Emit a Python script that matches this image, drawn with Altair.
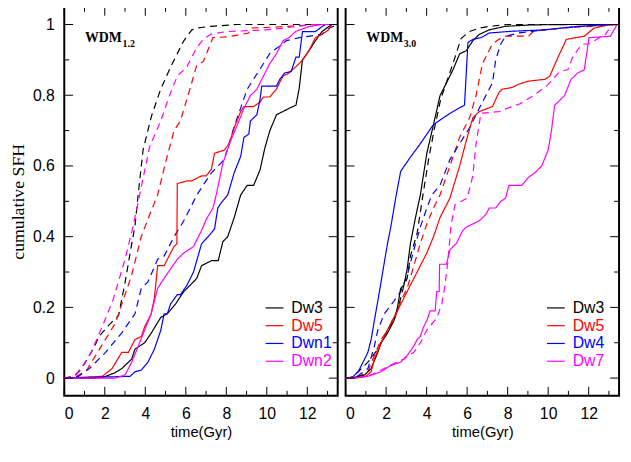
import altair as alt
import pandas as pd

# ---------------- data ----------------
# Left panel (WDM 1.2)
L_DW3_S_T = [0, 1.5, 2.04, 2.5, 2.84, 3.33, 3.49, 3.97, 4.29, 4.77, 5.09, 5.5, 5.9, 6.22, 6.54, 6.78, 7.26, 7.6, 7.83, 8.07, 8.39, 8.71, 9.03, 9.35, 9.67, 9.9, 10.15, 10.48, 10.8, 11.1, 11.44, 11.6, 11.76, 12.08, 12.4, 12.72, 13.2, 13.5]
L_DW3_S_V = [0, 0, 0.005, 0.015, 0.027, 0.054, 0.082, 0.1, 0.127, 0.172, 0.182, 0.21, 0.245, 0.263, 0.282, 0.318, 0.332, 0.332, 0.386, 0.4, 0.454, 0.518, 0.545, 0.545, 0.59, 0.65, 0.7, 0.745, 0.754, 0.763, 0.772, 0.82, 0.9, 0.926, 0.954, 0.98, 1.0, 1.0]
L_DW5_S_T = [0, 1.88, 2.36, 2.84, 3.17, 3.49, 3.81, 3.97, 4.29, 4.45, 4.61, 4.93, 5.25, 5.42, 5.56, 5.58, 6.06, 6.3, 6.78, 7.0, 7.26, 7.42, 7.9, 8.14, 8.39, 8.71, 8.87, 9.35, 9.67, 9.83, 10.15, 10.47, 10.8, 11.1, 11.44, 11.76, 12.08, 12.4, 12.72, 13.05, 13.2, 13.5]
L_DW5_S_V = [0, 0.005, 0.027, 0.073, 0.073, 0.109, 0.118, 0.145, 0.182, 0.227, 0.318, 0.318, 0.354, 0.372, 0.38, 0.55, 0.558, 0.558, 0.572, 0.572, 0.59, 0.636, 0.645, 0.663, 0.708, 0.754, 0.768, 0.768, 0.781, 0.795, 0.795, 0.817, 0.854, 0.863, 0.881, 0.899, 0.926, 0.963, 0.972, 0.985, 1.0, 1.0]
L_DWN1_S_T = [0, 3.25, 3.49, 3.81, 4.13, 4.45, 4.77, 4.93, 5.09, 5.25, 5.58, 5.74, 6.06, 6.38, 6.54, 6.78, 7.1, 7.42, 7.58, 7.74, 8.07, 8.39, 8.71, 8.87, 9.11, 9.19, 9.51, 9.67, 9.75, 10.48, 10.64, 10.88, 11.2, 11.44, 11.6, 11.76, 12.4, 12.72, 12.9, 13.5]
L_DWN1_S_V = [0, 0.005, 0.018, 0.023, 0.045, 0.082, 0.136, 0.182, 0.182, 0.21, 0.236, 0.236, 0.263, 0.3, 0.332, 0.38, 0.4, 0.422, 0.481, 0.495, 0.518, 0.581, 0.627, 0.681, 0.69, 0.727, 0.745, 0.79, 0.826, 0.826, 0.845, 0.863, 0.867, 0.908, 0.908, 0.98, 0.98, 0.994, 1.0, 1.0]
L_DWN2_S_T = [0, 2.5, 3.0, 3.33, 3.65, 3.97, 4.29, 4.61, 4.93, 5.25, 5.58, 5.9, 6.38, 6.78, 7.02, 7.34, 7.5, 7.83, 8.22, 8.55, 8.87, 9.19, 9.51, 9.83, 10.15, 10.47, 10.8, 11.1, 11.44, 12.08, 12.72, 13.5]
L_DWN2_S_V = [0, 0, 0.009, 0.045, 0.09, 0.136, 0.182, 0.254, 0.282, 0.309, 0.336, 0.354, 0.372, 0.418, 0.45, 0.481, 0.518, 0.608, 0.672, 0.717, 0.763, 0.799, 0.817, 0.854, 0.89, 0.917, 0.954, 0.963, 0.981, 0.994, 1.0, 1.0]
L_DW3_D_T = [0, 0.5, 1.0, 1.5, 1.72, 2.2, 2.68, 3.0, 3.3, 3.49, 3.65, 3.89, 4.3, 4.76, 5.26, 5.9, 6.3, 6.54, 7.26, 8.5, 13.5]
L_DW3_D_V = [0, 0.005, 0.04, 0.09, 0.118, 0.15, 0.177, 0.27, 0.37, 0.43, 0.52, 0.645, 0.74, 0.817, 0.881, 0.954, 0.985, 0.99, 0.995, 1.0, 1.0]
L_DW5_D_T = [0, 0.6, 1.08, 1.72, 2.52, 3.32, 3.8, 4.2, 4.61, 5.0, 5.42, 5.73, 6.2, 6.54, 6.86, 7.34, 8.07, 9.1, 9.2, 10.5, 12.5, 13.5]
L_DW5_D_V = [0, 0.005, 0.02, 0.08, 0.155, 0.29, 0.4, 0.46, 0.518, 0.61, 0.70, 0.727, 0.817, 0.885, 0.895, 0.963, 0.965, 0.976, 0.99, 0.993, 1.0, 1.0]
L_DWN1_D_T = [0, 0.7, 1.24, 2.04, 2.84, 3.49, 3.8, 4.13, 4.61, 4.93, 5.42, 5.9, 6.3, 6.54, 7.26, 7.9, 8.37, 9.03, 10.15, 10.96, 11.6, 12.7, 13.1, 13.5]
L_DWN1_D_V = [0, 0.005, 0.027, 0.073, 0.128, 0.182, 0.254, 0.272, 0.336, 0.345, 0.4, 0.445, 0.49, 0.518, 0.58, 0.618, 0.708, 0.817, 0.918, 0.954, 0.963, 0.972, 0.99, 1.0]
L_DWN2_D_T = [0, 0.5, 0.76, 1.3, 1.87, 2.4, 3.0, 3.4, 3.73, 4.21, 4.76, 5.2, 5.58, 6.06, 6.54, 6.9, 7.26, 8.0, 10.0, 11.6, 12.2, 13.5]
L_DWN2_D_V = [0, 0.005, 0.02, 0.07, 0.145, 0.22, 0.336, 0.43, 0.52, 0.654, 0.727, 0.8, 0.854, 0.881, 0.935, 0.96, 0.973, 0.98, 0.985, 0.995, 1.0, 1.0]

# Right panel (WDM 3.0)
R_DW3_S_T = [0, 0.29, 0.94, 1.26, 1.59, 1.75, 2.07, 2.39, 2.56, 2.72, 2.88, 3.04, 3.2, 3.45, 3.69, 4.01, 4.34, 4.66, 4.98, 5.3, 5.63, 5.96, 6.28, 6.6, 7.09, 7.9, 9.2, 11.0, 13.5]
R_DW3_S_V = [0, 0, 0.009, 0.027, 0.073, 0.1, 0.127, 0.163, 0.2, 0.254, 0.263, 0.309, 0.381, 0.454, 0.518, 0.636, 0.717, 0.799, 0.835, 0.872, 0.917, 0.926, 0.954, 0.972, 0.985, 0.995, 0.999, 1.0, 1.0]
R_DW5_S_T = [0, 0.45, 1.0, 1.26, 1.42, 1.75, 2.07, 2.39, 2.72, 3.04, 3.37, 3.69, 4.01, 4.34, 4.66, 5.15, 5.63, 5.96, 6.28, 6.6, 7.25, 7.57, 7.73, 8.22, 8.54, 9.03, 9.84, 10.08, 10.49, 10.9, 11.78, 12.27, 13.07, 13.5]
R_DW5_S_V = [0, 0, 0.005, 0.018, 0.054, 0.1, 0.136, 0.172, 0.209, 0.245, 0.282, 0.318, 0.354, 0.4, 0.454, 0.509, 0.6, 0.672, 0.736, 0.754, 0.768, 0.808, 0.817, 0.822, 0.831, 0.84, 0.845, 0.854, 0.908, 0.958, 0.967, 0.99, 1.0, 1.0]
R_DW4_S_T = [0, 0.29, 0.62, 0.94, 1.1, 1.26, 1.42, 1.59, 1.75, 1.91, 2.07, 2.23, 2.48, 2.72, 3.2, 3.69, 4.01, 4.34, 4.82, 5.3, 5.87, 6.04, 6.28, 6.7, 7.09, 8.2, 9.82, 11.46, 13.07, 13.5]
R_DW4_S_V = [0, 0, 0.018, 0.054, 0.073, 0.109, 0.163, 0.218, 0.272, 0.327, 0.381, 0.427, 0.512, 0.585, 0.625, 0.663, 0.69, 0.717, 0.736, 0.754, 0.772, 0.949, 0.958, 0.963, 0.976, 0.981, 0.985, 0.995, 1.0, 1.0]
R_DW7_S_T = [0, 0.45, 1.1, 1.75, 2.23, 2.72, 3.04, 3.37, 3.53, 3.69, 3.85, 4.01, 4.17, 4.42, 4.5, 4.62, 4.64, 4.98, 5.15, 5.47, 5.79, 5.96, 6.28, 6.6, 6.93, 7.09, 7.41, 7.66, 7.9, 8.06, 8.7, 9.03, 9.35, 9.68, 10.0, 10.16, 10.32, 10.49, 10.81, 11.13, 11.46, 11.78, 12.02, 12.1, 13.07, 13.4, 13.5]
R_DW7_S_V = [0, 0, 0.005, 0.018, 0.036, 0.045, 0.064, 0.091, 0.109, 0.118, 0.145, 0.163, 0.19, 0.19, 0.245, 0.245, 0.322, 0.322, 0.363, 0.381, 0.418, 0.427, 0.436, 0.445, 0.463, 0.481, 0.481, 0.5, 0.509, 0.545, 0.545, 0.568, 0.581, 0.6, 0.645, 0.699, 0.772, 0.781, 0.799, 0.845, 0.863, 0.872, 0.963, 0.963, 0.967, 1.0, 1.0]
R_DW3_D_T = [0, 0.3, 0.62, 1.1, 1.59, 1.91, 2.23, 2.56, 2.88, 3.04, 3.2, 3.53, 3.77, 4.1, 4.4, 4.7, 5.0, 5.3, 5.7, 6.1, 6.6, 7.09, 8.0, 13.5]
R_DW3_D_V = [0, 0.003, 0.018, 0.045, 0.082, 0.118, 0.154, 0.19, 0.263, 0.282, 0.345, 0.409, 0.5, 0.62, 0.71, 0.79, 0.84, 0.89, 0.96, 0.98, 0.99, 0.995, 1.0, 1.0]
R_DW5_D_T = [0, 0.45, 1.1, 1.42, 1.75, 2.07, 2.39, 2.72, 3.04, 3.37, 3.69, 4.01, 4.34, 4.66, 5.15, 5.63, 6.12, 6.44, 6.76, 7.25, 7.57, 7.9, 9.03, 9.27, 10.65, 12.27, 13.4, 13.5]
R_DW5_D_V = [0, 0, 0.018, 0.064, 0.109, 0.136, 0.163, 0.218, 0.254, 0.318, 0.381, 0.436, 0.481, 0.518, 0.6, 0.681, 0.736, 0.799, 0.89, 0.945, 0.958, 0.967, 0.967, 0.981, 0.99, 0.995, 1.0, 1.0]
R_DW4_D_T = [0, 0.45, 1.1, 1.42, 1.59, 1.91, 2.39, 2.72, 3.04, 3.37, 3.69, 4.01, 4.26, 4.66, 5.15, 5.63, 6.12, 6.6, 6.93, 7.25, 7.41, 7.66, 7.9, 8.54, 9.84, 11.46, 13.4, 13.5]
R_DW4_D_V = [0, 0, 0.027, 0.09, 0.136, 0.182, 0.218, 0.245, 0.29, 0.363, 0.427, 0.481, 0.518, 0.545, 0.618, 0.663, 0.708, 0.763, 0.8, 0.835, 0.9, 0.945, 0.967, 0.976, 0.985, 0.994, 1.0, 1.0]
R_DW7_D_T = [0, 0.45, 1.26, 1.75, 2.39, 2.88, 3.37, 3.69, 4.01, 4.5, 4.75, 4.9, 5.05, 5.2, 5.4, 6.0, 6.28, 6.44, 6.68, 7.65, 7.98, 8.62, 9.27, 9.92, 10.57, 10.97, 11.21, 11.54, 11.7, 12.0, 12.83, 13.16, 13.5]
R_DW7_D_V = [0, 0, 0.009, 0.023, 0.041, 0.054, 0.073, 0.1, 0.136, 0.17, 0.21, 0.26, 0.33, 0.43, 0.49, 0.509, 0.572, 0.663, 0.749, 0.754, 0.763, 0.776, 0.799, 0.826, 0.867, 0.872, 0.908, 0.935, 0.945, 0.945, 0.972, 1.0, 1.0]

NAMES_LEFT = ["Dw3", "Dw5", "Dwn1", "Dwn2"]
NAMES_RIGHT = ["Dw3", "Dw5", "Dw4", "Dw7"]
COLORS = ["#000000", "#ff0000", "#0000ff", "#ff00ff"]
PANEL_LABELS = [("WDM", "1.2"), ("WDM", "3.0")]

X_MAJOR = [0, 2, 4, 6, 8, 10, 12]
X_MINOR = [1, 3, 5, 7, 9, 11, 13]
Y_MAJOR = [0, 0.2, 0.4, 0.6, 0.8, 1.0]
Y_MINOR = [0.1, 0.3, 0.5, 0.7, 0.9]

LEFT_CURVES = [
    ("Dw3", "dashed", L_DW3_D_T, L_DW3_D_V),
    ("Dw5", "dashed", L_DW5_D_T, L_DW5_D_V),
    ("Dwn1", "dashed", L_DWN1_D_T, L_DWN1_D_V),
    ("Dwn2", "dashed", L_DWN2_D_T, L_DWN2_D_V),
    ("Dw3", "solid", L_DW3_S_T, L_DW3_S_V),
    ("Dw5", "solid", L_DW5_S_T, L_DW5_S_V),
    ("Dwn1", "solid", L_DWN1_S_T, L_DWN1_S_V),
    ("Dwn2", "solid", L_DWN2_S_T, L_DWN2_S_V),
]
RIGHT_CURVES = [
    ("Dw3", "dashed", R_DW3_D_T, R_DW3_D_V),
    ("Dw5", "dashed", R_DW5_D_T, R_DW5_D_V),
    ("Dw4", "dashed", R_DW4_D_T, R_DW4_D_V),
    ("Dw7", "dashed", R_DW7_D_T, R_DW7_D_V),
    ("Dw3", "solid", R_DW3_S_T, R_DW3_S_V),
    ("Dw5", "solid", R_DW5_S_T, R_DW5_S_V),
    ("Dw4", "solid", R_DW4_S_T, R_DW4_S_V),
    ("Dw7", "solid", R_DW7_S_T, R_DW7_S_V),
]

# ---------------- chart ----------------
W, H = 277, 394
XDOM = [0, 13.5]
YDOM = [-0.05, 1.05]
SANS = "Liberation Sans"
SERIF = "Liberation Serif"

LABEL_COLOR_EXPR = (
    "datum.label == 'Dw5' ? '#ff0000' : "
    "(datum.label == 'Dwn1' || datum.label == 'Dw4') ? '#0000ff' : "
    "(datum.label == 'Dwn2' || datum.label == 'Dw7') ? '#ff00ff' : '#000000'"
)


def make_df(curves):
    rows = []
    for name, style, ts, vs in curves:
        for i, (t, v) in enumerate(zip(ts, vs)):
            rows.append({"series": name, "style": style, "key": name + "_" + style,
                         "i": i, "t": t, "v": v})
    return pd.DataFrame(rows)


def panel(curves, names, label, show_y):
    df = make_df(curves)
    xs = alt.Scale(domain=XDOM, nice=False, zero=False)
    ys = alt.Scale(domain=YDOM, nice=False, zero=False)
    xaxis = alt.Axis(values=X_MAJOR, title="time(Gyr)", ticks=False, tickSize=0,
                     domain=False, grid=False, labelPadding=10, labelFontSize=16,
                     labelFont=SANS, labelColor="black", titleFont=SANS,
                     titleFontSize=15, titleFontWeight="normal", titleColor="black",
                     titlePadding=3)
    if show_y:
        yaxis = alt.Axis(values=Y_MAJOR, format=".1~f", title="cumulative SFH",
                         ticks=False, tickSize=0, domain=False, grid=False,
                         labelPadding=10, labelFontSize=16, labelFont=SANS,
                         labelColor="black", titleFont=SERIF, titleFontSize=18,
                         titleFontWeight="normal", titleColor="black", titlePadding=5)
    else:
        yaxis = None
    legend = alt.Legend(orient="none", legendX=203, legendY=295, title=None,
                        symbolType="stroke", symbolSize=324, symbolStrokeWidth=1.2,
                        labelFontSize=16, labelFont=SANS, labelOffset=7,
                        rowPadding=0, padding=0,
                        labelColor={"expr": LABEL_COLOR_EXPR})
    lines = alt.Chart(df).mark_line(strokeWidth=1.2).encode(
        x=alt.X("t:Q", scale=xs, axis=xaxis),
        y=alt.Y("v:Q", scale=ys, axis=yaxis),
        color=alt.Color("series:N", scale=alt.Scale(domain=names, range=COLORS),
                        sort=names, legend=legend),
        strokeDash=alt.StrokeDash("style:N",
                                  scale=alt.Scale(domain=["solid", "dashed"],
                                                  range=[[1, 0], [7, 5]]),
                                  legend=None),
        detail="key:N",
        order=alt.Order("i:Q"),
    )

    def xr(vals, y0, y1):
        return alt.Chart(pd.DataFrame({"t": vals})).mark_rule(
            color="black", strokeWidth=1).encode(
            x=alt.X("t:Q", scale=xs, axis=xaxis), y=alt.value(y0), y2=alt.value(y1))

    def yr(vals, x0, x1):
        return alt.Chart(pd.DataFrame({"v": vals})).mark_rule(
            color="black", strokeWidth=1).encode(
            y=alt.Y("v:Q", scale=ys, axis=yaxis), x=alt.value(x0), x2=alt.value(x1))

    ticks = [
        xr(X_MAJOR, H, H - 9), xr(X_MINOR, H, H - 5),
        xr(X_MAJOR, 0, 9), xr(X_MINOR, 0, 5),
        yr(Y_MAJOR, 0, 9), yr(Y_MINOR, 0, 5),
        yr(Y_MAJOR, W, W - 9), yr(Y_MINOR, W, W - 5),
    ]
    main, sub = label
    txt_main = alt.Chart(pd.DataFrame({"s": [main]})).mark_text(
        font=SERIF, fontSize=14, fontWeight="bold", align="left",
        baseline="alphabetic", color="black").encode(
        text="s:N", x=alt.value(21), y=alt.value(36))
    txt_sub = alt.Chart(pd.DataFrame({"s": [sub]})).mark_text(
        font=SERIF, fontSize=10, fontWeight="bold", align="left",
        baseline="alphabetic", color="black").encode(
        text="s:N", x=alt.value(59), y=alt.value(41))
    return alt.layer(lines, *ticks, txt_main, txt_sub).properties(width=W, height=H)


left = panel(LEFT_CURVES, NAMES_LEFT, PANEL_LABELS[0], True)
right = panel(RIGHT_CURVES, NAMES_RIGHT, PANEL_LABELS[1], False)

chart = alt.hconcat(left, right, spacing=0).resolve_scale(
    color="independent", x="independent", y="independent"
).properties(
    padding={"left": 0, "top": -6, "right": 0, "bottom": 0}
).configure_view(stroke="black", strokeWidth=2)

chart.save("out.html", embed_options={"renderer": "svg", "actions": False})
